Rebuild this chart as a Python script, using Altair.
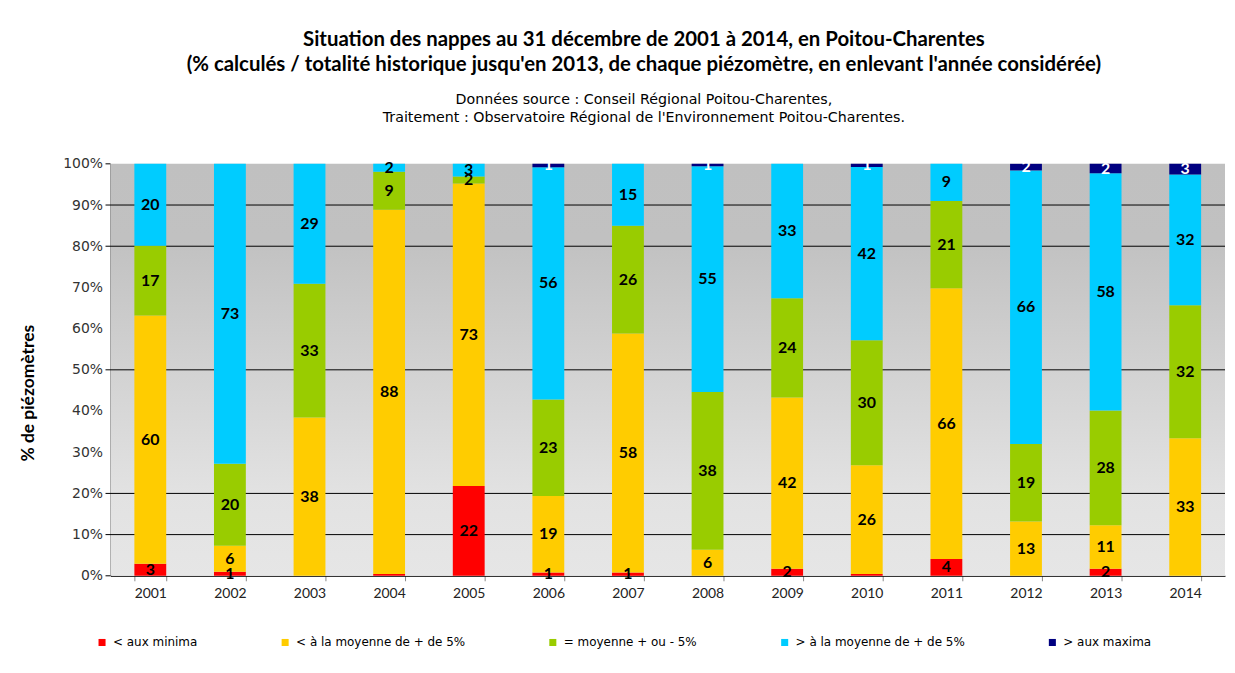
import altair as alt
import pandas as pd

annees = [str(y) for y in range(2001, 2015)]
categories = [
    "< aux minima",
    "< à la moyenne de + de 5%",
    "= moyenne + ou - 5%",
    "> à la moyenne de + de 5%",
    "> aux maxima",
]
couleurs = ["#FF0000", "#FFCC00", "#99CC00", "#00CCFF", "#000080"]

aux_minima = [2.9, 1.0, 0, 0.45, 21.8, 0.8, 0.8, 0, 1.7, 0.45, 4.1, 0, 1.7, 0]
inf_moyenne = [60.3, 6.3, 38.4, 88.4, 73.4, 18.6, 58.0, 6.3, 41.6, 26.4, 65.7, 13.2, 10.6, 33.4]
moyenne = [16.9, 19.9, 32.5, 9.2, 1.7, 23.4, 26.2, 38.3, 24.1, 30.3, 21.2, 18.8, 27.8, 32.3]
sup_moyenne = [19.9, 72.8, 29.1, 1.95, 3.1, 56.4, 15.0, 54.8, 32.6, 42.1, 9.0, 66.4, 57.6, 31.7]
aux_maxima = [0, 0, 0, 0, 0, 0.8, 0, 0.6, 0, 0.75, 0, 1.6, 2.3, 2.6]

y_ticks = list(range(0, 101, 10))
grid_values = [10, 20, 50, 80, 90]
edge_ticks = [0, 100]

series = [aux_minima, inf_moyenne, moyenne, sup_moyenne, aux_maxima]
rows = []
for k, (cat, vals) in enumerate(zip(categories, series)):
    for a, v in zip(annees, vals):
        rows.append({"annee": a, "categorie": cat, "ordre": k, "valeur": v})
df = pd.DataFrame(rows)

W, H = 1120, 414

yscale = alt.Scale(domain=[0, 100], nice=False)
xscale = alt.Scale(domain=annees, paddingInner=0.6, paddingOuter=0.3)

y_axis = alt.Axis(
    values=y_ticks,
    labelExpr="datum.value + '%'",
    title="% de piézomètres",
    titleFont="Lato",
    titleFontWeight="bold",
    titleFontSize=17.5,
    titleColor="black",
    titleX=-73,
    titleY=230,
    ticks=False,
    grid=False,
    domainColor="black",
    labelFont="DejaVu Sans",
    labelFontSize=14,
    labelColor="#333333",
    labelPadding=8,
)

fond_gradient = alt.LinearGradient(
    gradient="linear",
    x1=0,
    x2=0,
    y1=0,
    y2=1,
    stops=[
        alt.GradientStop(offset=0, color="#c0c0c0"),
        alt.GradientStop(offset=0.18, color="#c1c1c1"),
        alt.GradientStop(offset=0.8, color="#e2e2e2"),
        alt.GradientStop(offset=1, color="#e6e6e6"),
    ],
)

fond = (
    alt.Chart(pd.DataFrame({"f": [0]}))
    .mark_rect(color=fond_gradient)
    .encode(x=alt.value(0), x2=alt.value(W), y=alt.value(0), y2=alt.value(H))
)

base = (
    alt.Chart(df)
    .transform_stack(
        stack="valeur",
        groupby=["annee"],
        as_=["y0", "y1"],
        sort=[alt.SortField("ordre", order="ascending")],
    )
    .transform_calculate(mid="(datum.y0 + datum.y1) / 2")
)

bars = base.mark_bar().encode(
    x=alt.X(
        "annee:N",
        scale=xscale,
        axis=alt.Axis(
            title=None,
            labelAngle=0,
            tickBand="extent",
            tickColor="#888888",
            tickSize=5,
            domainColor="black",
            labelFont="Lato",
            labelFontSize=14,
            labelColor="#222222",
            labelPadding=6,
        ),
    ),
    y=alt.Y("y0:Q", scale=yscale, axis=y_axis),
    y2="y1:Q",
    color=alt.Color(
        "categorie:N",
        scale=alt.Scale(domain=categories, range=couleurs),
        sort=categories,
        legend=alt.Legend(
            orient="none",
            legendX=-14.5,
            legendY=475,
            direction="horizontal",
            title=None,
            symbolType="square",
            symbolSize=50,
            symbolStrokeWidth=0,
            labelFont="DejaVu Sans",
            labelFontSize=12,
            labelColor="black",
            labelLimit=300,
            labelOffset=5,
            columnPadding=82,
            padding=0,
        ),
    ),
)

labels = (
    base.transform_filter("round(datum.valeur) >= 1")
    .mark_text(font="Lato", fontWeight="bold", fontSize=16, baseline="middle")
    .encode(
        x=alt.X("annee:N", scale=xscale),
        y=alt.Y("mid:Q", scale=yscale, axis=y_axis),
        text=alt.Text("valeur:Q", format=".0f"),
        color=alt.condition("datum.ordre == 4", alt.value("white"), alt.value("black")),
    )
)

grid = (
    alt.Chart(pd.DataFrame({"v": grid_values}))
    .mark_rule(color="black", strokeWidth=1)
    .encode(y=alt.Y("v:Q", scale=yscale, axis=y_axis), x=alt.value(-5), x2=alt.value(W))
)
ticks = (
    alt.Chart(pd.DataFrame({"v": edge_ticks}))
    .mark_rule(color="black", strokeWidth=1)
    .encode(y=alt.Y("v:Q", scale=yscale, axis=y_axis), x=alt.value(-5), x2=alt.value(0))
)

chart = (
    alt.layer(fond, grid, ticks, bars, labels)
    .properties(
        width=W,
        height=H,
        autosize=alt.AutoSizeParams(type="none"),
        padding={"left": 103, "top": 155, "right": 2, "bottom": 80},
        title=alt.TitleParams(
            text=[
                "Situation des nappes au 31 décembre de 2001 à 2014, en Poitou-Charentes",
                "(% calculés / totalité historique jusqu'en 2013, de chaque piézomètre,  en enlevant l'année considérée)",
            ],
            subtitle=[
                "Données source : Conseil Régional Poitou-Charentes,",
                "Traitement : Observatoire Régional de l'Environnement Poitou-Charentes.",
            ],
            font="Lato",
            fontSize=20.5,
            fontWeight="bold",
            color="black",
            lineHeight=26,
            subtitleFont="DejaVu Sans",
            subtitleFontSize=14.3,
            subtitleLineHeight=18,
            subtitleColor="black",
            subtitlePadding=17,
            anchor="middle",
            frame="group",
            dx=-24,
            offset=32,
        ),
    )
    .configure(background="white")
    .configure_view(stroke=None)
)

chart.save("out.html", embed_options={"renderer": "svg", "actions": False})
